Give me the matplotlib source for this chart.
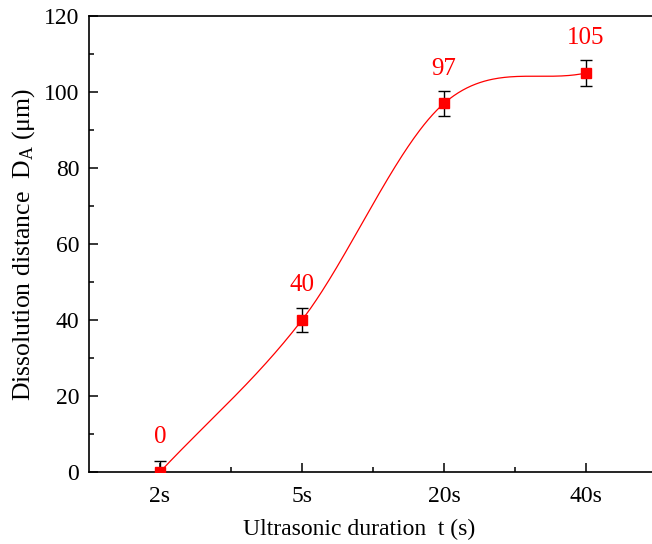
import numpy as np
import matplotlib
matplotlib.use("Agg")
import matplotlib.pyplot as plt
from matplotlib.ticker import MultipleLocator, FixedLocator

plt.rcParams['font.family'] = ['Liberation Serif', 'DejaVu Serif']
plt.rcParams['mathtext.fontset'] = 'custom'
plt.rcParams['mathtext.rm'] = 'Liberation Serif'
plt.rcParams['mathtext.it'] = 'Liberation Serif:italic'

categories = ['2s', '5s', '20s', '40s']
values = [0, 40, 97, 105]
errors = [3.0, 3.2, 3.3, 3.3]
labels = ['0', '40', '97', '105']

x = np.arange(len(categories))
y = np.array(values, dtype=float)

# Cardinal (Catmull-Rom) spline through the points
m = np.zeros_like(y)
m[0] = y[1] - y[0]
m[-1] = y[-1] - y[-2]
for i in range(1, len(y) - 1):
    m[i] = (y[i + 1] - y[i - 1]) / 2.0
xs, ys = [], []
for i in range(len(y) - 1):
    t = np.linspace(0, 1, 100)
    h00 = 2 * t**3 - 3 * t**2 + 1
    h10 = t**3 - 2 * t**2 + t
    h01 = -2 * t**3 + 3 * t**2
    h11 = t**3 - t**2
    xs.append(x[i] + t)
    ys.append(h00 * y[i] + h10 * m[i] + h01 * y[i + 1] + h11 * m[i + 1])
xs = np.concatenate(xs)
ys = np.concatenate(ys)

fig = plt.figure(figsize=(6.52, 5.44), dpi=100)
ax = fig.add_axes([89 / 652, 1 - 472 / 544, (657 - 89) / 652, 456 / 544])

ax.plot(xs, ys, color='red', lw=0.9, zorder=2)
ax.errorbar(x, y, yerr=errors, fmt='s', color='red', ms=7.5, mec='red',
            ecolor='black', elinewidth=1.0, capsize=4, capthick=1.0, zorder=3)

for xi, yi, lab in zip(x, y, labels):
    ax.annotate(lab, (xi, yi), xytext=(0, 25), textcoords='offset points',
                ha='center', va='center', color='red', fontsize=18)

ax.set_xlim(-0.5, 3.5)
ax.set_ylim(0, 120)
ax.set_xticks(x)
ax.set_xticklabels(categories)
ax.xaxis.set_minor_locator(FixedLocator([0.5, 1.5, 2.5]))
ax.yaxis.set_major_locator(MultipleLocator(20))
ax.yaxis.set_minor_locator(MultipleLocator(10))

ax.tick_params(which='both', direction='in', top=False, right=False, labelsize=17, width=1.1)
ax.tick_params(axis='x', which='major', length=6.5, pad=10)
ax.tick_params(axis='y', which='major', length=6.5, pad=7)
ax.tick_params(which='minor', length=3.5)
for s in ax.spines.values():
    s.set_linewidth(1.2)

ax.set_xlabel('Ultrasonic duration  t (s)', fontsize=17)
ax.set_ylabel('Dissolution distance  D$_\\mathrm{A}$ (μm)', fontsize=18.5)
ax.xaxis.set_label_coords((359 - 89) / 568, (472 - 529) / 456)
ax.yaxis.set_label_coords((24 - 89) / 568, 0.5)
ax.xaxis.label.set_va('center')
ax.yaxis.label.set_va('center')

fig.savefig('out.png', dpi=100)
